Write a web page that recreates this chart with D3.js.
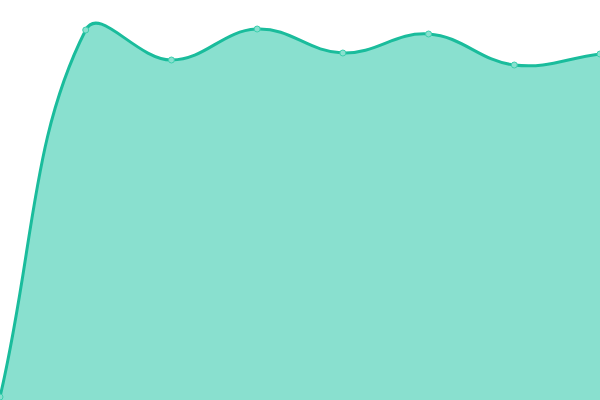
<!DOCTYPE html>
<html>
<head>
<meta charset="utf-8">
<script src="https://cdn.jsdelivr.net/npm/d3@7"></script>
<style>
  html, body { margin: 0; padding: 0; background: #fff; }
  svg { display: block; }
</style>
</head>
<body>
<div id="chart"></div>
<script>
// data
const labels = ['1', '2', '3', '4', '5', '6', '7', '8']
const values = [3, 370, 340, 371, 347, 366, 335, 346]

const width = 600
const height = 400
const tension = 0.4

const svg = d3.select('#chart').append('svg')
    .attr('width', width)
    .attr('height', height)

const x = d3.scalePoint()
    .domain(labels)
    .range([0, width])

const y = d3.scaleLinear()
    .domain([0, 400])
    .range([height, 0])

const pts = labels.map((l, i) => [x(l), y(values[i])])

// spline control points, distance weighted
function controls(p) {
    return p.map((cur, i) => {
        const prev = p[i - 1] || cur
        const next = p[i + 1] || cur
        const d01 = Math.hypot(cur[0] - prev[0], cur[1] - prev[1])
        const d12 = Math.hypot(next[0] - cur[0], next[1] - cur[1])
        let s01 = d01 / (d01 + d12), s12 = d12 / (d01 + d12)
        if (isNaN(s01)) s01 = 0
        if (isNaN(s12)) s12 = 0
        const fa = tension * s01, fb = tension * s12
        const cp1 = [cur[0] - fa * (next[0] - prev[0]), cur[1] - fa * (next[1] - prev[1])]
        const cp2 = [cur[0] + fb * (next[0] - prev[0]), cur[1] + fb * (next[1] - prev[1])]
        // keep inside chart area
        cp1[1] = Math.max(0, Math.min(height, cp1[1]))
        cp2[1] = Math.max(0, Math.min(height, cp2[1]))
        return { cp1, cp2 }
    })
}

function linePath(p) {
    const c = controls(p)
    const path = d3.path()
    path.moveTo(p[0][0], p[0][1])
    for (let i = 1; i < p.length; i++) {
        path.bezierCurveTo(c[i - 1].cp2[0], c[i - 1].cp2[1], c[i].cp1[0], c[i].cp1[1], p[i][0], p[i][1])
    }
    return path
}

const line = linePath(pts)
const area = linePath(pts)
area.lineTo(pts[pts.length - 1][0], height)
area.lineTo(pts[0][0], height)
area.closePath()

// fill
svg.append('path')
    .attr('fill', '#89e0cf')
    .attr('d', area.toString())

// line
svg.append('path')
    .attr('fill', 'none')
    .attr('stroke', '#1abc9c')
    .attr('stroke-width', 3)
    .attr('d', line.toString())

// points
svg.selectAll('circle')
    .data(pts)
    .join('circle')
    .attr('cx', d => d[0])
    .attr('cy', d => d[1])
    .attr('r', 3)
    .attr('fill', '#89e0cf')
    .attr('stroke', '#3ccfae')
    .attr('stroke-width', 1)
</script>
</body>
</html>
